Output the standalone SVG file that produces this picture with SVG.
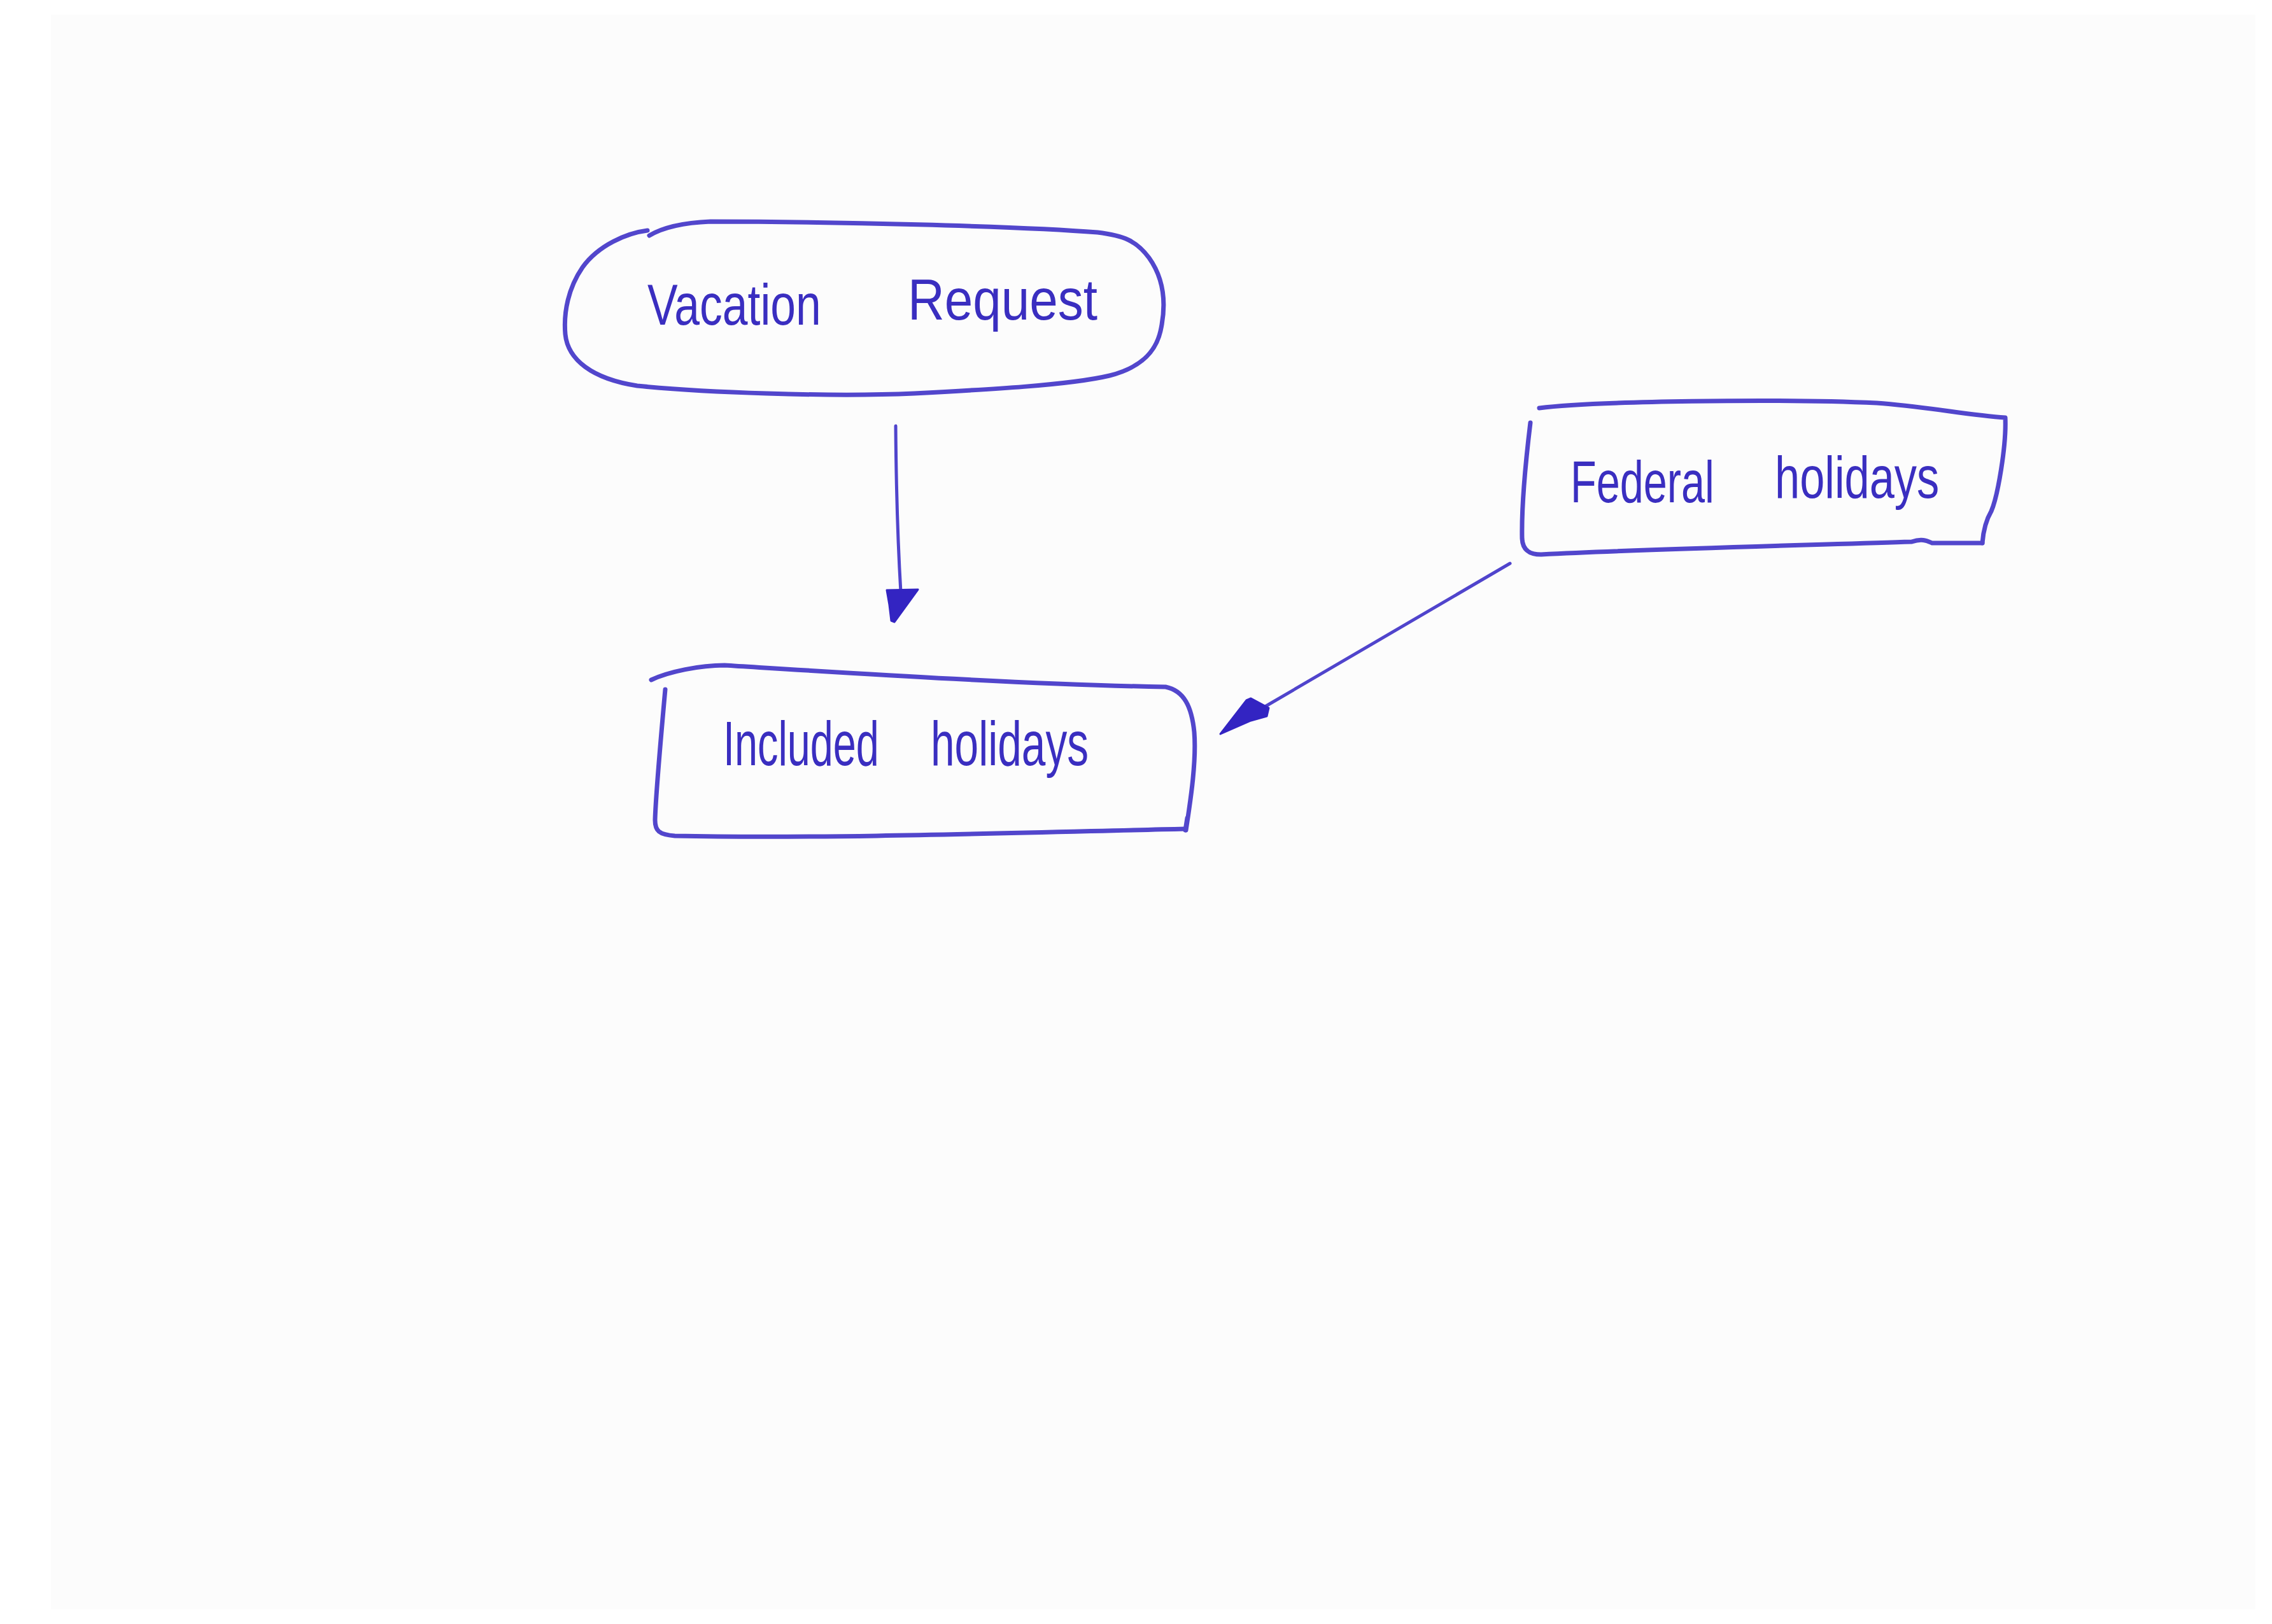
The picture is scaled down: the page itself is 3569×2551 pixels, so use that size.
<svg xmlns="http://www.w3.org/2000/svg" width="3569" height="2551" viewBox="0 0 3569 2551">
<style>
.ink{fill:none;stroke:#5246cc;stroke-width:7;stroke-linecap:round;stroke-linejoin:round}
.conn{fill:none;stroke:#5044cc;stroke-width:5;stroke-linecap:round;stroke-linejoin:round}
.head{fill:#3324c2;stroke:#3324c2;stroke-width:3;stroke-linejoin:round}
.lbl{font-family:"Liberation Sans","DejaVu Sans",sans-serif;fill:#3a2ec0}
</style>
<rect x="0" y="0" width="3569" height="2551" fill="#ffffff"/>
<rect x="80" y="23" width="3463" height="2505" fill="#fcfcfc"/>
<g id="vacation-request">
<path class="ink" d="M1017,362 C985,366 940,385 915,420 C893,452 885,490 888,525 C892,565 930,595 1001,606 C1100,616 1300,624 1436,618 C1550,612 1680,605 1743,590 C1790,578 1815,555 1823,520 C1832,480 1830,440 1805,405 C1785,378 1765,370 1724,365 C1600,355 1300,348 1116,348 C1070,350 1040,358 1020,370"/>
<text class="lbl" font-size="90" transform="translate(1017,510) scale(0.794,1)">Vacation</text>
<text class="lbl" font-size="90" transform="translate(1426,502) scale(0.889,1)">Request</text>
</g>
<g id="included-holidays">
<path class="ink" d="M1023,1068 C1050,1055 1100,1045 1138,1045 C1300,1055 1600,1075 1831,1079 C1860,1085 1872,1110 1876,1150 C1880,1200 1868,1270 1863,1304"/>
<path class="ink" d="M1045,1083 C1038,1160 1030,1250 1029,1288 C1029,1305 1035,1311 1060,1313 C1300,1318 1600,1308 1862,1302"/>
<path class="ink" d="M1862,1304 L1865,1285" stroke-width="10"/>
<text class="lbl" font-size="98" transform="translate(1136,1202) scale(0.661,1)">Included</text>
<text class="lbl" font-size="98" transform="translate(1462,1202) scale(0.69,1)">holidays</text>
</g>
<g id="federal-holidays">
<path class="ink" d="M2418,641 C2500,630 2800,626 2948,633 C3030,639 3090,652 3150,656 C3152,700 3138,780 3128,803 C3118,820 3115,840 3114,853"/>
<path class="ink" d="M2404,664 C2396,730 2390,800 2391,846 C2392,866 2405,871 2421,871 C2600,862 2850,856 3003,851 C3020,845 3028,850 3035,853 L3114,853"/>
<text class="lbl" font-size="92" transform="translate(2467,789) scale(0.724,1)">Federal</text>
<text class="lbl" font-size="92" transform="translate(2788,782) scale(0.765,1)">holidays</text>
</g>
<g id="connectors">
<path class="conn" d="M1407,669 C1408,800 1412,880 1415,930"/>
<polygon class="head" points="1393,927 1442,926 1405,977 1400,975 1397,950"/>
<path class="conn" d="M2372,885 L1987,1110"/>
<polygon class="head" points="1917,1153 1958,1100 1965,1097 1993,1112 1990,1125 1965,1132"/>
</g>
</svg>
